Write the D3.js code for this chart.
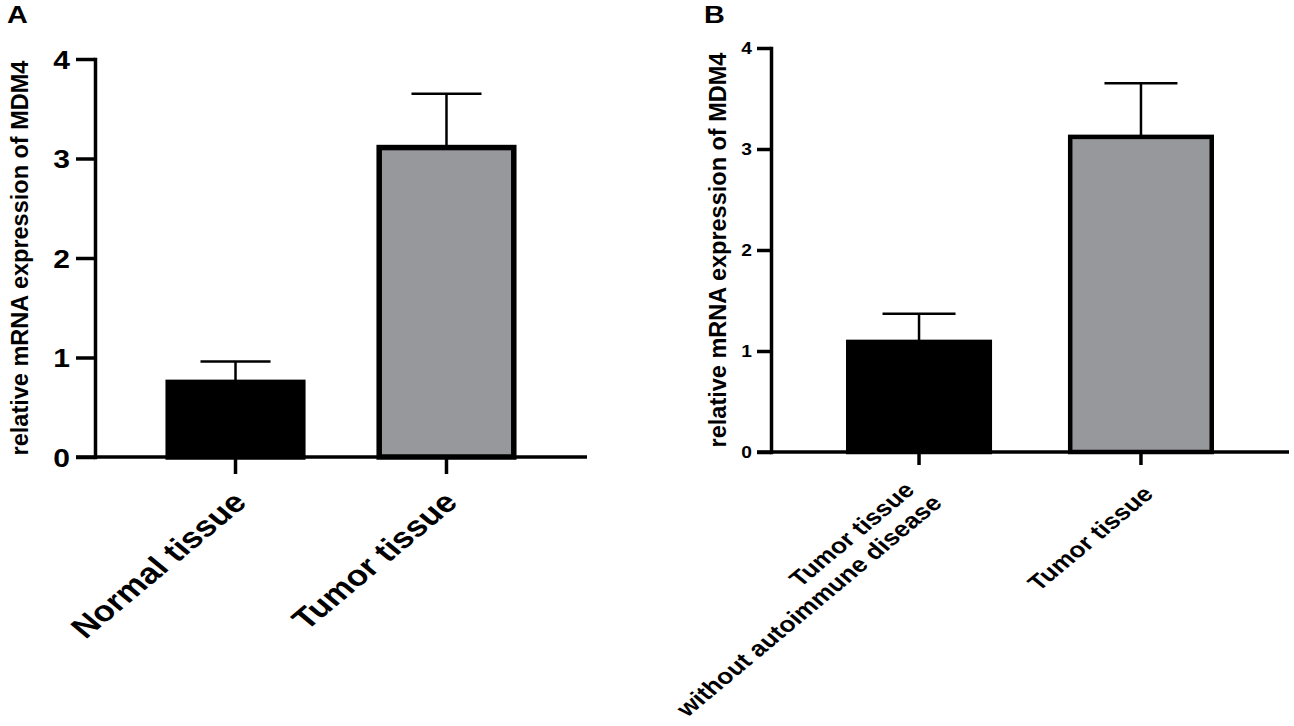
<!DOCTYPE html>
<html>
<head>
<meta charset="utf-8">
<script src="https://cdn.jsdelivr.net/npm/d3@7"></script>
<style>
  body { margin: 0; background: #fff; }
  text { font-family: "Liberation Sans", Arial, sans-serif; font-weight: bold; fill: #000; }
</style>
</head>
<body>
<div id="chart"></div>
<script>

// chart size
const width = 1294;
const height = 726;

// data, panel A
const groupsA = [["Normal tissue"], ["Tumor tissue"]];
const meansA = [0.75, 3.11];
const semA = [0.21, 0.54];

// data, panel B
const groupsB = [["Tumor tissue", "without autoimmune disease"], ["Tumor tissue"]];
const meansB = [1.09, 3.12];
const semB = [0.28, 0.53];

const yTicks = [0, 1, 2, 3, 4];
const yLabel = "relative mRNA expression of MDM4";
const barFills = ["#000000", "#96989b"];

// the figure is a bit wider than tall, so text looks stretched
const stretch = 1.2;

const svg = d3.select("#chart")
  .append("svg")
  .attr("width", width)
  .attr("height", height)
  .attr("viewBox", [0, 0, width, height]);

// one panel of the figure
function drawPanel(p) {
  const g = svg.append("g");

  let yScale = d3.scaleLinear()
    .domain([0, 4])
    .range([p.y0, p.y4]);

  let xScale = d3.scaleBand()
    .domain(d3.range(p.groups.length))
    .range([p.left, p.right])
    .paddingInner(p.padIn)
    .paddingOuter(p.padOut);

  const bw = xScale.bandwidth();

  // bars
  g.selectAll(".bar")
    .data(p.means)
    .enter()
    .append("rect")
      .attr("class", "bar")
      .attr("x", (d, i) => xScale(i) + p.barStroke / 2)
      .attr("y", d => yScale(d))
      .attr("width", bw - p.barStroke)
      .attr("height", d => p.y0 - yScale(d))
      .attr("fill", (d, i) => barFills[i])
      .attr("stroke", "#000")
      .attr("stroke-width", p.barStroke);

  // error bars (upper side only)
  const err = g.selectAll(".err")
    .data(p.means)
    .enter()
    .append("g")
      .attr("class", "err")
      .attr("stroke", "#000")
      .attr("stroke-width", p.errStroke);

  err.append("line")
    .attr("x1", (d, i) => xScale(i) + bw / 2)
    .attr("x2", (d, i) => xScale(i) + bw / 2)
    .attr("y1", d => yScale(d))
    .attr("y2", (d, i) => yScale(d + p.sem[i]));

  err.append("line")
    .attr("x1", (d, i) => xScale(i) + bw / 4)
    .attr("x2", (d, i) => xScale(i) + bw * 3 / 4)
    .attr("y1", (d, i) => yScale(d + p.sem[i]))
    .attr("y2", (d, i) => yScale(d + p.sem[i]));

  // y axis
  const yAxis = g.append("g")
    .attr("transform", `translate(${p.left}, 0)`)
    .call(d3.axisLeft(yScale)
      .tickValues(yTicks)
      .tickSize(p.tick)
      .tickSizeOuter(0)
      .tickFormat(d3.format("d")));

  yAxis.select(".domain")
    .attr("stroke-width", p.axisStroke)
    .attr("stroke-linecap", "square");
  yAxis.selectAll(".tick line")
    .attr("stroke-width", p.axisStroke);
  yAxis.selectAll(".tick text")
    .attr("x", null)
    .attr("dy", "0.36em")
    .attr("transform", `translate(${-p.tick - p.tickPad}, 0) scale(${stretch}, 1)`)
    .attr("font-size", p.tickFont)
    .attr("font-family", null)
    .attr("fill", "#000");

  // x axis line, starts where the y ticks start
  g.append("line")
    .attr("x1", p.left - p.tick)
    .attr("x2", p.right)
    .attr("y1", p.y0)
    .attr("y2", p.y0)
    .attr("stroke", "#000")
    .attr("stroke-width", p.axisStroke);

  // x ticks below the axis
  const xAxis = g.append("g")
    .attr("transform", `translate(0, ${p.y0})`)
    .call(d3.axisBottom(xScale)
      .tickSize(p.xTick)
      .tickSizeOuter(0)
      .tickFormat(""));
  xAxis.select(".domain").remove();
  xAxis.selectAll(".tick line").attr("stroke-width", p.axisStroke);

  // rotated group labels
  const lh = p.labelFont * 1.15;
  const lab = g.selectAll(".xlab")
    .data(p.groups)
    .enter()
    .append("text")
      .attr("class", "xlab")
      .attr("text-anchor", "end")
      .attr("font-size", p.labelFont)
      .attr("transform", (d, i) =>
        `translate(${xScale(i) + bw / 2 + p.labDx}, ${p.labY}) scale(${stretch}, 1) rotate(-45)`);

  // first line of a two-line label sits a little back
  lab.selectAll("tspan")
    .data(d => d.map((s, j) => ({
      s: s,
      off: (j - (d.length - 1) / 2) * lh,
      back: (d.length > 1 && j == 0) ? -7 : 0
    })))
    .enter()
    .append("tspan")
      .attr("x", d => d.back)
      .attr("y", d => d.off)
      .attr("dy", "0.35em")
      .text(d => d.s);

  // y axis title
  g.append("text")
    .attr("text-anchor", "middle")
    .attr("font-size", p.titleFont)
    .attr("transform", `translate(${p.titleX}, ${(p.y0 + p.y4) / 2}) rotate(-90)`)
    .text(yLabel);

  // panel letter
  g.append("text")
    .attr("transform", `translate(${p.letterX}, ${p.letterY}) scale(${stretch}, 1)`)
    .attr("font-size", 24)
    .text(p.letter);
}

drawPanel({
  letter: "A", letterX: 7, letterY: 23,
  groups: groupsA, means: meansA, sem: semA,
  left: 95, right: 587, y0: 457, y4: 59,
  padIn: 0.336, padOut: 0.334,
  barStroke: 5.5, errStroke: 2.5, axisStroke: 3.5,
  tick: 19, tickPad: 6, xTick: 17, tickFont: 25,
  labelFont: 29, labDx: 4, labY: 497,
  titleFont: 23.5, titleX: 28
});

drawPanel({
  letter: "B", letterX: 704, letterY: 23,
  groups: groupsB, means: meansB, sem: semB,
  left: 771, right: 1289, y0: 452, y4: 48,
  padIn: 0.342, padOut: 0.338,
  barStroke: 4.5, errStroke: 2.5, axisStroke: 3.5,
  tick: 14, tickPad: 5, xTick: 13, tickFont: 16,
  labelFont: 22, labDx: 7, labY: 490,
  titleFont: 23.5, titleX: 726
});

</script>
</body>
</html>
